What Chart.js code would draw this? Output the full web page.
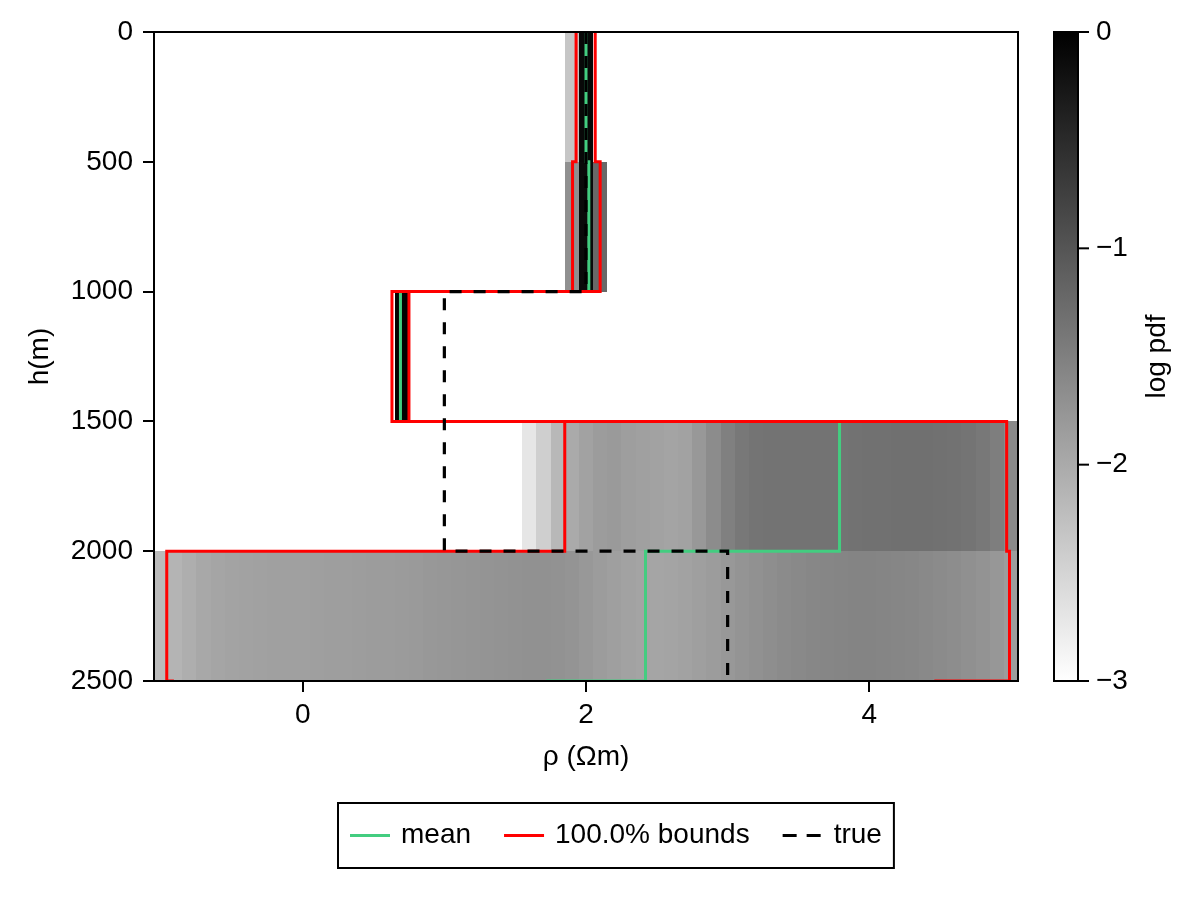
<!DOCTYPE html>
<html><head><meta charset="utf-8">
<script src="https://cdn.jsdelivr.net/npm/chart.js@4.4.1/dist/chart.umd.min.js"></script>
<style>html,body{margin:0;padding:0;background:#fff;} canvas{display:block;}</style>
</head><body>
<canvas id="c" width="1200" height="900" style="width:1200px;height:900px"></canvas>
<script>
const FONT = '"Liberation Sans", Arial, Helvetica, sans-serif';
const FS = 28;

// axis ticks
const xTicks = [0, 2, 4];
const xTickLabels = ['0', '2', '4'];
const yTicks = [0, 500, 1000, 1500, 2000, 2500];
const yTickLabels = ['0', '500', '1000', '1500', '2000', '2500'];
const cbTicks = [0, -1, -2, -3];
const cbTickLabels = ['0', '\u22121', '\u22122', '\u22123'];

// heatmap layers (depth in m, rho bins of width 0.1 starting at layerBinStart)
const layerTopDepth = [0, 500, 1000, 1500, 2000];
const layerBottomDepth = [500, 1000, 1500, 2000, 2500];
const layerBinStart = [1.9, 1.9, 0.7, 1.6, -1.0];
const binWidth = 0.1;
const layer1LogPdf = [-2.33, -0.09];
const layer2LogPdf = [-1.69, -0.12, -1.22];
const layer3LogPdf = [-0.02];
const layer4LogPdf = [-2.71, -2.44, -2.16, -2.00, -1.91, -1.84, -1.81, -1.86, -1.88, -1.91,
  -1.93, -1.91, -1.79, -1.65, -1.51, -1.41, -1.36, -1.35, -1.35, -1.35,
  -1.35, -1.35, -1.35, -1.34, -1.33, -1.33, -1.32, -1.32, -1.32, -1.33,
  -1.34, -1.36, -1.41, -1.48, -1.62];
const layer5LogPdf = [-2.19, -2.12, -2.05, -1.98, -1.94, -1.92, -1.91, -1.89, -1.88, -1.88,
  -1.88, -1.87, -1.86, -1.86, -1.85, -1.84, -1.84, -1.82, -1.81, -1.79,
  -1.78, -1.76, -1.75, -1.74, -1.73, -1.72, -1.71, -1.71, -1.72, -1.74,
  -1.79, -1.84, -1.87, -1.91, -1.93, -1.94, -1.93, -1.91, -1.87, -1.84,
  -1.79, -1.74, -1.71, -1.67, -1.64, -1.61, -1.59, -1.58, -1.56, -1.55,
  -1.55, -1.56, -1.58, -1.59, -1.61, -1.64, -1.66, -1.69, -1.73, -1.78,
  -1.84];
const layerLogPdf = [layer1LogPdf, layer2LogPdf, layer3LogPdf, layer4LogPdf, layer5LogPdf];

// step profiles (value per layer; last one is the half-space below 2500 m)
const stepDepths = [0, 500, 1000, 1500, 2000, 2500, 2700];
const meanRho  = [2.00, 2.02, 0.69, 3.79, 2.42, 1.73];
const lowerRho = [1.93, 1.905, 0.63, 1.85, -0.96, -0.92];
const upperRho = [2.065, 2.10, 0.75, 4.97, 4.99, 4.47];
const trueRho  = [2.0, 2.0, 1.0, 1.0, 3.0, 3.0];

const GREEN = '#43CD80';
const RED = '#FF0000';

function stepPoints(vals) {
  const pts = [];
  vals.forEach((v, i) => { pts.push({x: v, y: stepDepths[i]}); pts.push({x: v, y: stepDepths[i + 1]}); });
  return pts;
}
function grayFor(v) {
  const t = Math.max(0, Math.min(1, -v / 3));
  const g = Math.round(255 * t);
  return `rgb(${g},${g},${g})`;
}

const deco = {
  id: 'deco',
  beforeDatasetsDraw(chart) {
    const ctx = chart.ctx, xs = chart.scales.x, ys = chart.scales.y, ca = chart.chartArea;
    ctx.save();
    ctx.beginPath(); ctx.rect(ca.left, ca.top, ca.right - ca.left, ca.bottom - ca.top); ctx.clip();
    layerLogPdf.forEach((arr, li) => {
      const yT = Math.round(ys.getPixelForValue(layerTopDepth[li]));
      const yB = Math.round(ys.getPixelForValue(layerBottomDepth[li]));
      arr.forEach((v, j) => {
        const c = layerBinStart[li] + j * binWidth;
        const xL = Math.round(xs.getPixelForValue(c - binWidth / 2));
        const xR = Math.round(xs.getPixelForValue(c + binWidth / 2));
        ctx.fillStyle = grayFor(v);
        ctx.fillRect(xL, yT, xR - xL, yB - yT);
      });
    });
    ctx.restore();
  },
  afterDraw(chart) {
    const ctx = chart.ctx, ca = chart.chartArea;
    ctx.save();
    // frame
    ctx.strokeStyle = '#000'; ctx.lineWidth = 2;
    ctx.strokeRect(ca.left, ca.top, ca.right - ca.left, ca.bottom - ca.top);

    // colorbar
    const cbL = ca.right + 36, cbW = 24, cbT = ca.top, cbB = ca.bottom;
    const grad = ctx.createLinearGradient(0, cbT, 0, cbB);
    grad.addColorStop(0, grayFor(0));
    grad.addColorStop(1, grayFor(-3));
    ctx.fillStyle = grad;
    ctx.fillRect(cbL, cbT, cbW, cbB - cbT);
    ctx.strokeRect(cbL, cbT, cbW, cbB - cbT);
    ctx.font = `${FS}px ${FONT}`;
    ctx.fillStyle = '#000';
    ctx.textAlign = 'left'; ctx.textBaseline = 'middle';
    cbTicks.forEach((v, i) => {
      const y = cbT + (0 - v) / 3 * (cbB - cbT);
      ctx.beginPath(); ctx.moveTo(cbL + cbW, y); ctx.lineTo(cbL + cbW + 11, y); ctx.stroke();
      ctx.fillText(cbTickLabels[i], cbL + cbW + 18, y);
    });
    const midY = (ca.top + ca.bottom) / 2;
    // colorbar label
    ctx.save(); ctx.translate(1157, midY); ctx.rotate(-Math.PI / 2);
    ctx.textAlign = 'center'; ctx.fillText('log pdf', 0, 0); ctx.restore();
    // y title
    ctx.save(); ctx.translate(40, midY); ctx.rotate(-Math.PI / 2);
    ctx.textAlign = 'center'; ctx.fillText('h(m)', 0, 0); ctx.restore();
    // x title
    ctx.textAlign = 'center';
    ctx.fillText('\u03C1 (\u03A9m)', (ca.left + ca.right) / 2, 757);

    // legend
    const items = [
      {label: 'mean', color: GREEN, dash: []},
      {label: '100.0% bounds', color: RED, dash: []},
      {label: 'true', color: '#000', dash: [14, 10]}
    ];
    const padL = 12, lineLen = 40, gapT = 11, gapI = 33;
    const widths = items.map(it => ctx.measureText(it.label).width);
    let total = padL * 2 + gapI * (items.length - 1);
    widths.forEach(w => total += lineLen + gapT + w);
    const cx = (ca.left + cbL + cbW) / 2;
    const lx = Math.round(cx - total / 2), ly = 803, lh = 65;
    ctx.lineWidth = 2; ctx.strokeStyle = '#000'; ctx.setLineDash([]);
    ctx.strokeRect(lx, ly, total, lh);
    let x = lx + padL; const my = ly + lh / 2;
    ctx.textAlign = 'left';
    items.forEach((it, i) => {
      ctx.strokeStyle = it.color; ctx.lineWidth = 3; ctx.setLineDash(it.dash);
      ctx.beginPath(); ctx.moveTo(x, my); ctx.lineTo(x + lineLen, my); ctx.stroke();
      ctx.setLineDash([]);
      x += lineLen + gapT;
      ctx.fillStyle = '#000';
      ctx.fillText(it.label, x, my);
      x += widths[i] + gapI;
    });
    ctx.restore();
  }
};

const tickFont = {family: FONT, size: FS};
new Chart(document.getElementById('c'), {
  type: 'line',
  data: {
    datasets: [
      {label: 'true', data: stepPoints(trueRho), borderColor: '#000', borderWidth: 3.2, borderDash: [12, 12], pointRadius: 0, tension: 0, fill: false},
      {label: '100.0% bounds', data: stepPoints(lowerRho), borderColor: RED, borderWidth: 3, pointRadius: 0, tension: 0, fill: false},
      {label: '100.0% bounds upper', data: stepPoints(upperRho), borderColor: RED, borderWidth: 3, pointRadius: 0, tension: 0, fill: false},
      {label: 'mean', data: stepPoints(meanRho), borderColor: GREEN, borderWidth: 3, pointRadius: 0, tension: 0, fill: false}
    ]
  },
  options: {
    responsive: false,
    animation: false,
    devicePixelRatio: 1,
    events: [],
    layout: {padding: {left: 0, top: 32, right: 182, bottom: 0}},
    plugins: {legend: {display: false}, tooltip: {enabled: false}, title: {display: false}},
    scales: {
      x: {
        type: 'linear', min: -1.05, max: 5.05,
        afterBuildTicks: s => { s.ticks = xTicks.map(v => ({value: v})); },
        afterFit: s => { s.height = 219; },
        ticks: {callback: (v, i) => xTickLabels[i], font: tickFont, color: '#000', padding: 6, autoSkip: false, maxRotation: 0},
        grid: {drawOnChartArea: false, drawTicks: true, tickLength: 11, color: '#000', lineWidth: 2},
        border: {display: true, color: '#000', width: 2}
      },
      y: {
        type: 'linear', min: 0, max: 2500, reverse: true,
        afterBuildTicks: s => { s.ticks = yTicks.map(v => ({value: v})); },
        afterFit: s => { s.width = 154; },
        ticks: {callback: (v, i) => yTickLabels[i], font: tickFont, color: '#000', padding: 10, autoSkip: false},
        grid: {drawOnChartArea: false, drawTicks: true, tickLength: 11, color: '#000', lineWidth: 2},
        border: {display: true, color: '#000', width: 2}
      }
    }
  },
  plugins: [deco]
});
</script>
</body></html>
